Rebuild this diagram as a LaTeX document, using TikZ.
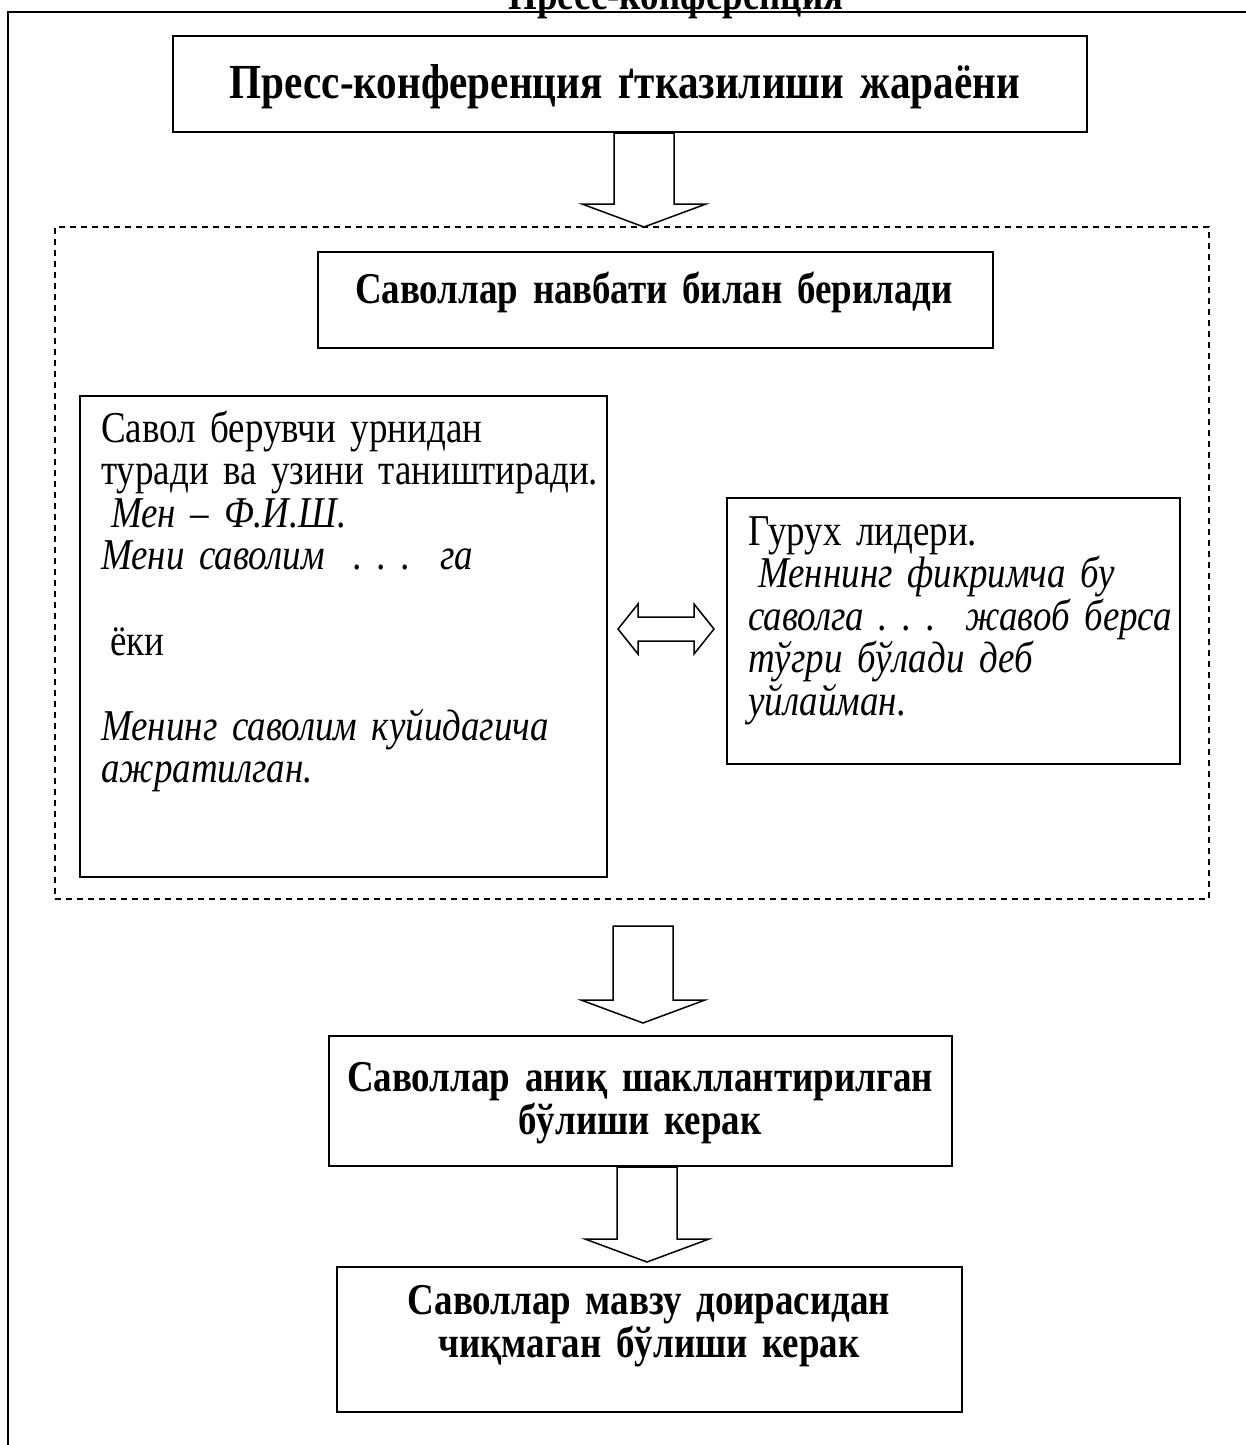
\documentclass[tikz,border=0pt]{standalone}
\usepackage{fontspec}
\setmainfont{Liberation Serif}[FakeStretch=0.84,WordSpace=0.85]
\usetikzlibrary{calc}

\tikzset{
  box/.style={draw,line width=2pt,inner sep=0pt},
  thinbox/.style={draw,line width=1.5pt,inner sep=0pt},
  grpbox/.style={draw,line width=1.5pt,dash pattern=on 6pt off 5pt,inner sep=0pt},
  headtext/.style={font=\bfseries\fontsize{44}{43}\selectfont,align=center,
    text width=640pt,inner sep=0pt,anchor=base},
  plaintext/.style={font=\fontsize{44}{42.6}\selectfont,align=left,
    inner sep=0pt,anchor=base west},
  blockarrow/.style={draw,line width=1.5pt,fill=white,line join=miter}
}

\begin{document}
\begin{tikzpicture}[x=1pt,y=-1pt]
  \useasboundingbox (0,0) rectangle (1245,1445);
  % page frame, cut off at the top
  \node[anchor=base,inner sep=0pt,font=\bfseries\fontsize{44}{43}\selectfont] (title) at (676,9.5) {Пресс-конференция};
  \draw[line width=2.5pt] (8,1460) -- (8,12) -- (1260,12);

  \node[box,minimum width=914pt,minimum height=96pt] (press) at (630,84) {};
  \node[headtext,text width=900pt,font=\bfseries\fontsize{49}{48}\selectfont] (presstxt) at (625,99) {Пресс-конференция ґтказилиши жараёни};

  \node[grpbox,minimum width=1154pt,minimum height=672pt] (grp) at (632,563) {};
  \node[box,minimum width=675pt,minimum height=96pt] (nav) at (655.5,300) {};
  \node[headtext] (navtxt) at (654,303) {Саволлар навбати билан берилади};

  \node[thinbox,minimum width=527pt,minimum height=481pt] (ask) at (343.5,636.5) {};
  \node[plaintext,text width=540pt] (asktxt) at (101,442) {Савол берувчи урнидан\\
    туради ва узини таништиради.\\
    \hspace*{10pt}\textit{Мен – Ф.И.Ш.}\\
    \textit{Мени саволим\ \ .\ .\ .\ \ га}\\[42.6pt]
    \hspace*{9pt}ёки\\[42.6pt]
    \textit{Менинг саволим куйидагича}\\
    \textit{ажратилган.}};

  \node[thinbox,minimum width=453pt,minimum height=266pt] (lead) at (953.5,631) {};
  \node[plaintext,text width=440pt] (leadtxt) at (748,545) {Гурух лидери.\\
    \hspace*{10pt}\textit{Меннинг фикримча бу}\\
    \textit{саволга .\ .\ .\ \ жавоб берса}\\
    \textit{тўгри бўлади деб}\\
    \textit{уйлайман.}};

  \node[box,minimum width=623pt,minimum height=130pt] (cond) at (640.5,1101) {};
  \node[headtext] (condtxt) at (640,1091) {Саволлар аниқ шакллантирилган\\бўлиши керак};
  \node[box,minimum width=625pt,minimum height=145pt] (topic) at (649.5,1339.5) {};
  \node[headtext] (topictxt) at (649,1314) {Саволлар мавзу доирасидан\\чиқмаган бўлиши керак};

  % block arrows
  \coordinate (tip1) at (644,227);
  \coordinate (tail2) at (643,926);
  \coordinate (tip2) at (643,1023);
  \coordinate (tip3) at (647,1262);
  \foreach \from/\to in {press.south -| tip1/tip1, tail2/tip2, cond.south -| tip3/tip3}
    \draw[blockarrow] let \p1=(\from), \p2=(\to) in
      (\x1-30pt,\y1) -- (\x1-30pt,\y2+23pt) -- (\x1-62pt,\y2+23pt) -- (\p2)
      -- (\x1+62pt,\y2+23pt) -- (\x1+30pt,\y2+23pt) -- (\x1+30pt,\y1) -- cycle;

  \coordinate (dl) at (618,629);
  \coordinate (dr) at (714,629);
  \draw[blockarrow] let \p1=(dl), \p2=(dr) in
    (\p1) -- (\x1+20pt,\y1+25pt) -- (\x1+20pt,\y1+12pt) -- (\x2-20pt,\y1+12pt)
    -- (\x2-20pt,\y1+25pt) -- (\p2) -- (\x2-20pt,\y1-25pt) -- (\x2-20pt,\y1-12pt)
    -- (\x1+20pt,\y1-12pt) -- (\x1+20pt,\y1-25pt) -- cycle;
\end{tikzpicture}
\end{document}
